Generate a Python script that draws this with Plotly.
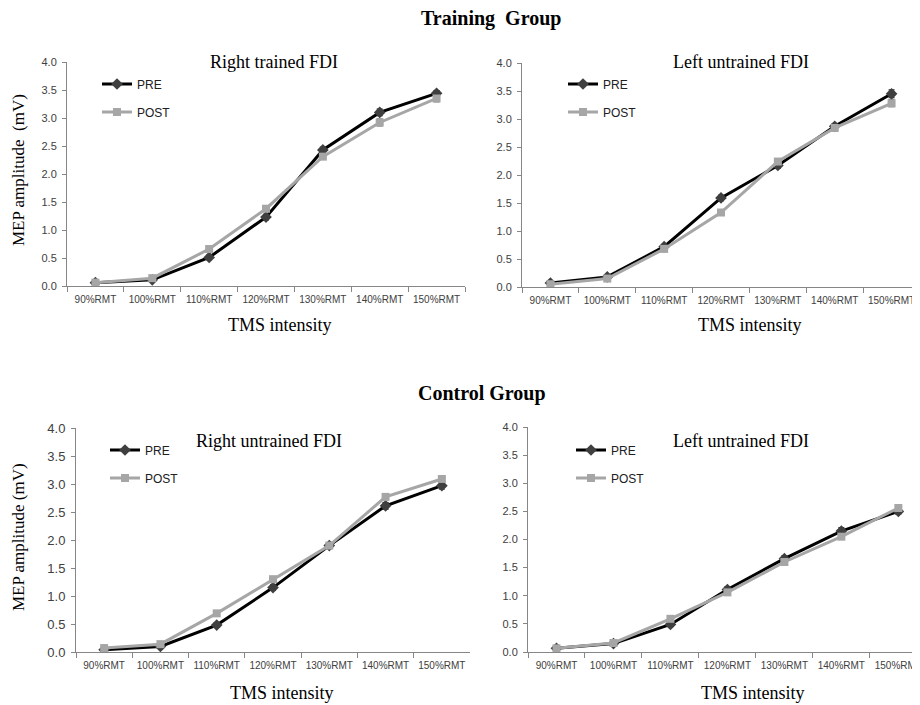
import plotly.graph_objects as go

categories = ["90%RMT", "100%RMT", "110%RMT", "120%RMT", "130%RMT", "140%RMT", "150%RMT"]
y_ticks = [0.0, 0.5, 1.0, 1.5, 2.0, 2.5, 3.0, 3.5, 4.0]

# Training group - Right trained FDI
tr_right_pre = [0.06, 0.11, 0.51, 1.23, 2.43, 3.10, 3.44]
tr_right_pre_err = [0.02, 0.02, 0.04, 0.05, 0.05, 0.06, 0.05]
tr_right_post = [0.06, 0.14, 0.66, 1.38, 2.31, 2.92, 3.35]
tr_right_post_err = [0.02, 0.02, 0.04, 0.05, 0.05, 0.06, 0.06]

# Training group - Left untrained FDI
tr_left_pre = [0.07, 0.18, 0.72, 1.59, 2.17, 2.87, 3.45]
tr_left_pre_err = [0.02, 0.02, 0.04, 0.05, 0.05, 0.05, 0.07]
tr_left_post = [0.05, 0.15, 0.68, 1.33, 2.24, 2.84, 3.28]
tr_left_post_err = [0.02, 0.02, 0.04, 0.04, 0.05, 0.05, 0.06]

# Control group - Right untrained FDI
co_right_pre = [0.04, 0.10, 0.48, 1.15, 1.90, 2.61, 2.97]
co_right_pre_err = [0.02, 0.02, 0.04, 0.05, 0.04, 0.06, 0.06]
co_right_post = [0.07, 0.14, 0.69, 1.30, 1.90, 2.77, 3.09]
co_right_post_err = [0.02, 0.02, 0.04, 0.04, 0.04, 0.05, 0.05]

# Control group - Left untrained FDI
co_left_pre = [0.065, 0.15, 0.49, 1.11, 1.66, 2.15, 2.50]
co_left_pre_err = [0.02, 0.02, 0.04, 0.05, 0.05, 0.06, 0.05]
co_left_post = [0.065, 0.16, 0.59, 1.06, 1.60, 2.05, 2.56]
co_left_post_err = [0.02, 0.02, 0.04, 0.04, 0.05, 0.05, 0.05]

# The page body has an 8px margin; size the figure so it fills the 920x705 window.
OFF = 8
W, H = 920 - OFF, 705 - OFF
def px(x):
    return (x - OFF) / W
def py(y):
    return 1 - (y - OFF) / H

PRE_LINE = "#000000"
PRE_MARK = "#3f3f3f"
POST_COL = "#a6a6a6"
AX_COL = "#868686"
TICK_FONT_COL = "#404040"

panels = [
    ("x", "y", (67, 465), (286, 62), 6.5, tr_right_pre, tr_right_pre_err, tr_right_post, tr_right_post_err, 11),
    ("x2", "y2", (522, 920), (287, 63), 6.5, tr_left_pre, tr_left_pre_err, tr_left_post, tr_left_post_err, 11),
    ("x3", "y3", (76, 470), (652, 428), 6.5, co_right_pre, co_right_pre_err, co_right_post, co_right_post_err, 13),
    ("x4", "y4", (528, 920), (652, 427), 6.38, co_left_pre, co_left_pre_err, co_left_post, co_left_post_err, 11),
]

legend_pos = [
    ((97, 84), (97, 112)),
    ((563, 84), (563, 112)),
    ((105, 450), (105, 478)),
    ((571, 450), (571, 478)),
]

fig = go.Figure()
layout = {}
li = 1
for i, (xa, ya, xd, yd, xmax, pre, pre_e, post, post_e, ysz) in enumerate(panels):
    lg_pre = "legend" if li == 1 else f"legend{li}"
    lg_post = f"legend{li + 1}"
    fig.add_trace(go.Scatter(
        x=categories, y=pre, name="PRE", xaxis=xa, yaxis=ya, mode="lines+markers",
        line=dict(color=PRE_LINE, width=3),
        marker=dict(symbol="diamond", size=9, color=PRE_MARK),
        error_y=dict(type="data", array=pre_e, visible=True, color="#000000", thickness=1, width=3),
        legend=lg_pre, showlegend=True,
    ))
    fig.add_trace(go.Scatter(
        x=categories, y=post, name="POST", xaxis=xa, yaxis=ya, mode="lines+markers",
        line=dict(color=POST_COL, width=3),
        marker=dict(symbol="square", size=8, color=POST_COL),
        error_y=dict(type="data", array=post_e, visible=True, color="#000000", thickness=1, width=3),
        legend=lg_post, showlegend=True,
    ))
    (pxp, pyp), (pxq, pyq) = legend_pos[i]
    for name, (lx, ly) in ((lg_pre, (pxp, pyp)), (lg_post, (pxq, pyq))):
        layout[name] = dict(
            x=px(lx), y=py(ly), xanchor="left", yanchor="middle",
            bgcolor="rgba(0,0,0,0)", borderwidth=0,
            font=dict(family="Liberation Sans, Arial, sans-serif", size=12, color="#202020"),
            itemwidth=30,
        )
    li += 2

    xname = "xaxis" if xa == "x" else "xaxis" + xa[1:]
    yname = "yaxis" if ya == "y" else "yaxis" + ya[1:]
    layout[xname] = dict(
        domain=[px(xd[0]), min(1.0, px(xd[1]))], anchor=ya, type="category",
        range=[-0.5, xmax], showline=True, linecolor=AX_COL, linewidth=1,
        ticks="outside", tickson="boundaries", ticklen=5, tickcolor=AX_COL,
        showgrid=False, zeroline=False, tickangle=0, automargin=False,
        tickfont=dict(family="Liberation Sans, Arial, sans-serif", size=10, color=TICK_FONT_COL),
        ticklabelstandoff=4,
    )
    layout[yname] = dict(
        domain=[py(yd[0]), py(yd[1])], anchor=xa, range=[0, 4],
        tickvals=y_ticks, tickformat=".1f",
        showline=True, linecolor=AX_COL, linewidth=1,
        ticks="outside", ticklen=4, tickcolor=AX_COL,
        showgrid=False, zeroline=False, automargin=False,
        tickfont=dict(family="Liberation Sans, Arial, sans-serif", size=ysz, color=TICK_FONT_COL),
        ticklabelstandoff=3,
    )

serif = "Liberation Serif, Times New Roman, serif"
annotations = [
    dict(text="<b>Training\u00a0\u00a0Group</b>", x=px(491), y=py(18), size=20),
    dict(text="<b>Control Group</b>", x=px(482), y=py(393), size=20),
    dict(text="Right trained FDI", x=px(274), y=py(62), size=18),
    dict(text="Left untrained FDI", x=px(741), y=py(62), size=18),
    dict(text="Right untrained FDI", x=px(269), y=py(441), size=18),
    dict(text="Left untrained FDI", x=px(741), y=py(441), size=18),
    dict(text="TMS intensity", x=px(280), y=py(325), size=18),
    dict(text="TMS intensity", x=px(750), y=py(325), size=18),
    dict(text="TMS intensity", x=px(282), y=py(693), size=18),
    dict(text="TMS intensity", x=px(753), y=py(693), size=18),
]
anns = []
for a in annotations:
    anns.append(dict(
        text=a["text"], x=a["x"], y=a["y"], xref="paper", yref="paper",
        xanchor="center", yanchor="middle", showarrow=False,
        font=dict(family=serif, size=a["size"], color="#000000"),
    ))
for txt, yc in (("MEP amplitude\u00a0\u00a0(mV)", 170), ("MEP amplitude (mV)", 537)):
    anns.append(dict(
        text=txt, x=px(18), y=py(yc), xref="paper", yref="paper",
        xanchor="center", yanchor="middle", showarrow=False, textangle=-90,
        font=dict(family=serif, size=17, color="#000000"),
    ))

fig.update_layout(
    width=W, height=H, margin=dict(l=0, r=0, t=0, b=0),
    paper_bgcolor="white", plot_bgcolor="white",
    annotations=anns, **layout,
)

fig.write_html("out.html")
